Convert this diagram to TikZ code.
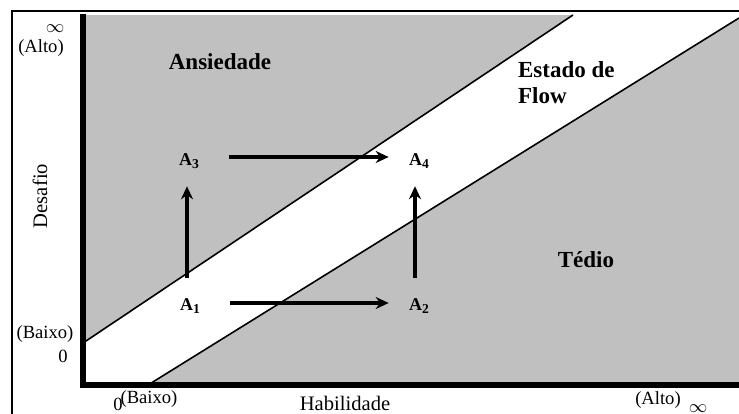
\documentclass[tikz,border=0pt]{standalone}
\usepackage{fontspec}
\setmainfont{Liberation Serif}
\usetikzlibrary{arrows.meta}
\definecolor{zonegray}{RGB}{192,192,192}
\newcommand{\pointsub}[1]{\raisebox{-0.45ex}{\fontsize{6.8}{7}\selectfont #1}}
\begin{document}
\begin{tikzpicture}[x=0.5pt,y=-0.5pt,
  region/.style={font=\fontsize{11.5}{13}\selectfont\bfseries},
  point/.style={font=\fontsize{9}{10}\selectfont\bfseries, inner sep=0pt},
  axislabel/.style={font=\fontsize{10.3}{12}\selectfont},
  ticklabel/.style={font=\fontsize{9.3}{11}\selectfont, inner sep=0pt},
  move/.style={line width=1.6pt, -{Stealth[length=6.5pt,width=6pt]}},
  boundary/.style={line width=0.8pt},
  axis/.style={line width=2.6pt}]
\useasboundingbox (0,0) rectangle (739,413);
% outer frame (top and left edges visible)
\draw[line width=0.6pt] (12,420) -- (12,11) -- (745,11);
% gray zones and white flow band
\fill[zonegray] (83,15) rectangle (739,385);
\fill[white] (83,343) -- (573,15) -- (739,15) -- (739,18) -- (148,385) -- (83,385) -- cycle;
\coordinate (u0) at (83,343);
\coordinate (u1) at (573,15);
\coordinate (l0) at (148,385);
\coordinate (l1) at (739,18);
\draw[boundary] (u0) -- (u1);
\draw[boundary] (l0) -- (l1);
% axes
\draw[axis] (83,14) -- (83,385) -- (739,385);
% region labels
\node[region] (ans) at (220,62) {Ansiedade};
\node[region, anchor=west, align=left] (flow) at (511,83) {Estado de\\Flow};
\node[region] (ted) at (586,260) {Tédio};
% points
\node[point] (A1) at (190,306) {A\pointsub{1}};
\node[point] (A2) at (419,306) {A\pointsub{2}};
\node[point] (A3) at (189,161) {A\pointsub{3}};
\node[point] (A4) at (419,161) {A\pointsub{4}};
\draw[move, shorten <=15pt, shorten >=10pt] (A1.east |- 0,303) -- (A2.west |- 0,303);
\draw[move, shorten <=15pt, shorten >=10pt] (A3.east |- 0,157) -- (A4.west |- 0,157);
\draw[move, shorten <=10pt, shorten >=8.5pt] (A1.north -| 187,0) -- (A3.south -| 187,0);
\draw[move, shorten <=10pt, shorten >=8.5pt] (A2.north -| 415,0) -- (A4.south -| 415,0);
% axis labels
\node[ticklabel] (yinf) at (55,29) {$\infty$};
\node[ticklabel] (yalto) at (41,48) {(Alto)};
\node[axislabel, rotate=90] (desafio) at (40,196) {Desafio};
\node[ticklabel] (ybaixo) at (45,334) {(Baixo)};
\node[ticklabel] (yzero) at (63,356) {0};
\node[ticklabel] (xzero) at (118,404) {0};
\node[ticklabel] (xbaixo) at (149,399) {(Baixo)};
\node[axislabel] (hab) at (345,403) {Habilidade};
\node[ticklabel] (xalto) at (658,400) {(Alto)};
\node[ticklabel] (xinf) at (698,409) {$\infty$};
\end{tikzpicture}
\end{document}
